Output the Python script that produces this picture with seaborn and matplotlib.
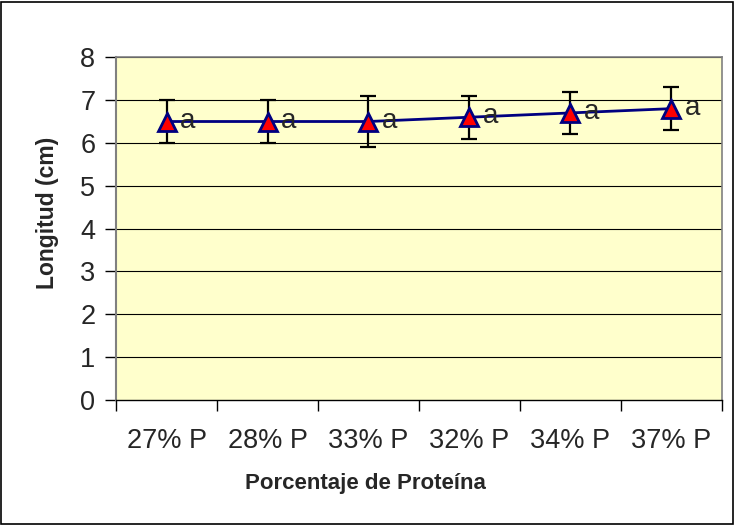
import matplotlib
matplotlib.use("Agg")
import matplotlib.pyplot as plt
import seaborn as sns
import pandas as pd
import numpy as np
from matplotlib.patches import Rectangle

categories = ["27% P", "28% P", "33% P", "32% P", "34% P", "37% P"]
longitud = [6.5, 6.5, 6.5, 6.6, 6.7, 6.8]
error = [0.5, 0.5, 0.6, 0.5, 0.5, 0.5]
letters = ["a", "a", "a", "a", "a", "a"]

sns.set_theme(style="white")
plt.rcParams["font.family"] = ["Liberation Sans", "DejaVu Sans"]

df = pd.DataFrame({"cat": categories, "val": longitud, "err": error})
df["pos"] = np.arange(len(categories))

fig = plt.figure(figsize=(7.35, 5.25), dpi=100)
fig.patch.set_facecolor("white")
fig.patches.append(Rectangle((0.002, 0.002), 0.995, 0.995, transform=fig.transFigure,
                             fill=False, edgecolor="black", linewidth=1.2))
ax = fig.add_axes([0.158, 0.238, 0.824, 0.653])
ax.set_facecolor("#FFFFCC")

for y in range(1, 9):
    ax.axhline(y, color="black", linewidth=0.8, zorder=1)

ax.errorbar(df["pos"], df["val"], yerr=df["err"], fmt="none", ecolor="black",
            elinewidth=1.6, capsize=6, capthick=1.6, zorder=2)
sns.lineplot(data=df, x="pos", y="val", ax=ax, color="#000080", linewidth=2,
             marker="^", markersize=13, markerfacecolor="red",
             markeredgecolor="#000080", markeredgewidth=2, zorder=3)

for x, y, t in zip(df["pos"], df["val"], letters):
    ax.text(x + 0.13, y + 0.02, t, fontsize=20, va="center", ha="left", zorder=4)

ax.set_xlim(-0.5, len(categories) - 0.5)
ax.set_ylim(0, 8)
ax.set_yticks(range(0, 9))
ax.tick_params(axis="y", length=8, width=1, labelsize=19.5, color="black", direction="out", left=True, pad=7)
ax.set_xticks(df["pos"])
ax.set_xticklabels(categories, fontsize=19.5)
ax.tick_params(axis="x", length=0, pad=20)
ax.set_xticks(np.arange(-0.5, len(categories)), minor=True)
ax.tick_params(axis="x", which="minor", length=8, width=1, color="black", bottom=True, direction="out")

for s in ["top", "right"]:
    ax.spines[s].set_color("#808080")
    ax.spines[s].set_linewidth(1.2)
ax.spines["left"].set_color("#808080")
ax.spines["left"].set_linewidth(1.5)
ax.spines["bottom"].set_color("black")
ax.spines["bottom"].set_linewidth(1)

ax.set_xlabel("Porcentaje de Proteína", fontsize=16, fontweight="bold", labelpad=14)
ax.set_ylabel("Longitud (cm)", fontsize=16.5, fontweight="bold", labelpad=15)
ax.xaxis.label.set_x(0.411)
ax.yaxis.label.set_y(0.545)

fig.savefig("out.png", dpi=100)
